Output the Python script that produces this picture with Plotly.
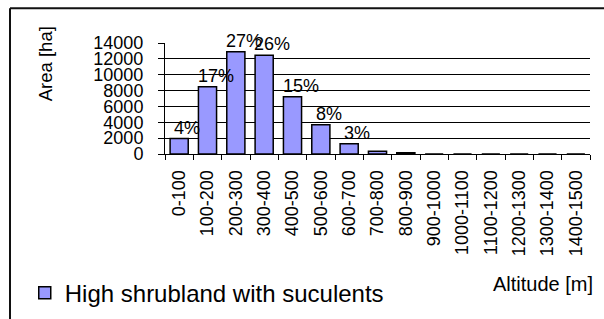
import plotly.graph_objects as go

categories = ["0-100", "100-200", "200-300", "300-400", "400-500", "500-600",
              "600-700", "700-800", "800-900", "900-1000", "1000-1100",
              "1100-1200", "1200-1300", "1300-1400", "1400-1500"]
area_ha = [1950, 8480, 12900, 12450, 7220, 3680, 1280, 360, 160, 0, 0, 0, 0, 0, 0]
pct_labels = ["4%", "17%", "27%", "26%", "15%", "8%", "3%", "", "", "", "", "", "", "", ""]
series_name = "High shrubland with suculents"
y_ticks = [0, 2000, 4000, 6000, 8000, 10000, 12000, 14000]

FONT = "Liberation Sans, Arial, sans-serif"

fig = go.Figure()
fig.add_trace(go.Bar(
    x=categories, y=area_ha, name=series_name,
    marker=dict(color="#9999FF", line=dict(color="#000000", width=1.5)),
    showlegend=True,
))

annotations = []
for c, v, t in zip(categories, area_ha, pct_labels):
    if t:
        annotations.append(dict(x=c, y=v, xref="x", yref="y", text=t, showarrow=False,
                                xanchor="center", yanchor="bottom", xshift=8, yshift=-1,
                                font=dict(family=FONT, size=18, color="#000")))

# axis titles
annotations.append(dict(text="Area [ha]", xref="paper", yref="paper", x=-0.282, y=0.81,
                        textangle=-90, showarrow=False, xanchor="center", yanchor="middle",
                        font=dict(family=FONT, size=18.5, color="#000")))
annotations.append(dict(text="Altitude [m]", xref="paper", yref="paper", x=1.012, y=-1.171,
                        showarrow=False, xanchor="right", yanchor="middle",
                        font=dict(family=FONT, size=20, color="#000")))

shapes = [
    dict(type="line", xref="paper", yref="paper", x0=-0.3647, x1=1.05, y0=1.3125, y1=1.3125,
         line=dict(color="#111", width=2)),
    dict(type="line", xref="paper", yref="paper", x0=-0.3647, x1=-0.3647, y0=1.3125, y1=-1.5,
         line=dict(color="#111", width=2)),
]

fig.update_layout(
    width=604, height=319,
    margin=dict(l=165, r=14, t=42.5, b=164.5, autoexpand=False),
    paper_bgcolor="white", plot_bgcolor="white",
    bargap=0.36,
    font=dict(family=FONT, size=18, color="#000"),
    annotations=annotations,
    shapes=shapes,
    legend=dict(x=-0.33, xanchor="left", y=-1.254, yanchor="middle",
                font=dict(family=FONT, size=24, color="#000"),
                bgcolor="rgba(0,0,0,0)", borderwidth=0),
    xaxis=dict(type="category", showline=True, linecolor="#000", linewidth=1,
               ticks="outside", tickson="boundaries", ticklen=5, tickcolor="#000",
               tickangle=-90, showgrid=False, tickfont=dict(family=FONT, size=18, color="#000"),
               ticklabelstandoff=8),
    yaxis=dict(range=[0, 14000], tickvals=y_ticks, tickformat="d", showline=True,
               linecolor="#000", linewidth=1,
               ticks="outside", ticklen=6, tickcolor="#000", showgrid=True, gridcolor="#000",
               gridwidth=1, zeroline=False, tickfont=dict(family=FONT, size=18, color="#000"),
               ticklabelstandoff=11),
)

fig.write_html("out.html", config={"displayModeBar": False},
               post_script="document.body.style.margin='0px';document.body.style.overflow='hidden';")
